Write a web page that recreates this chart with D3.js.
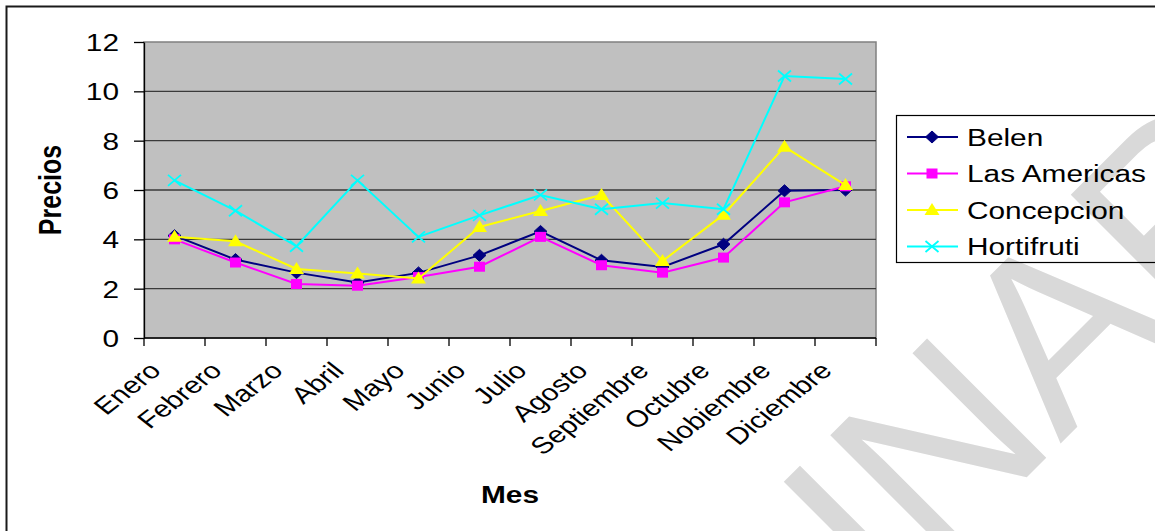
<!DOCTYPE html>
<html>
<head>
<meta charset="utf-8">
<script src="https://cdn.jsdelivr.net/npm/d3@7"></script>
<style>
  html, body { margin: 0; padding: 0; background: #fff; }
  svg { display: block; }
  text { font-family: "Liberation Sans", Arial, sans-serif; fill: #000; }
</style>
</head>
<body>
<div id="chart"></div>
<script>
// Precios mensuales por punto de venta
const months = ["Enero", "Febrero", "Marzo", "Abril", "Mayo", "Junio", "Julio",
                "Agosto", "Septiembre", "Octubre", "Nobiembre", "Diciembre"];
const belen       = [4.15, 3.18, 2.65, 2.25, 2.64, 3.35, 4.32, 3.15, 2.88, 3.80, 5.97, 6.00];
const lasAmericas = [4.00, 3.06, 2.19, 2.12, 2.47, 2.89, 4.10, 2.95, 2.65, 3.26, 5.50, 6.15];
const concepcion  = [4.10, 3.92, 2.80, 2.61, 2.41, 4.50, 5.15, 5.80, 3.12, 5.00, 7.75, 6.20];
const hortifruti  = [6.39, 5.16, 3.72, 6.39, 4.10, 4.97, 5.80, 5.22, 5.47, 5.22, 10.62, 10.50];
const seriesNames = ["Belen", "Las Americas", "Concepcion", "Hortifruti"];
const yTicks = [0, 2, 4, 6, 8, 10, 12];

const W = 1155, H = 531;
const SX = 1.28;          // horizontal stretch of the lettering
const FS = 23.3;

const series = [
  { name: seriesNames[0], values: belen,       color: "#000080", marker: "diamond" },
  { name: seriesNames[1], values: lasAmericas, color: "#ff00ff", marker: "square" },
  { name: seriesNames[2], values: concepcion,  color: "#ffff00", marker: "triangle" },
  { name: seriesNames[3], values: hortifruti,  color: "#00ffff", marker: "cross" }
];

const plot = { left: 144, right: 876, top: 42, bottom: 338 };

const svg = d3.select("#chart").append("svg")
  .attr("width", W).attr("height", H);

svg.append("rect").attr("width", W).attr("height", H).attr("fill", "#fff");

// watermark lettering behind the chart
svg.append("text")
  .attr("transform", "translate(887,617) rotate(-45)")
  .attr("font-size", 245)
  .style("fill", "#d9d9d9")
  .text("INAR");

// outer frame
svg.append("rect")
  .attr("x", 6.5).attr("y", 6.5).attr("width", 1300).attr("height", 700)
  .attr("fill", "none").attr("stroke", "#1a1a1a").attr("stroke-width", 2);

const x = d3.scaleBand().domain(months).range([plot.left, plot.right]).padding(0);
const y = d3.scaleLinear().domain([0, 12]).range([plot.bottom, plot.top]);
const cx = m => x(m) + x.bandwidth() / 2;

// plot area
svg.append("rect")
  .attr("x", plot.left).attr("y", plot.top)
  .attr("width", plot.right - plot.left).attr("height", plot.bottom - plot.top)
  .attr("fill", "#c0c0c0").attr("stroke", "#808080").attr("stroke-width", 1.5);

// horizontal gridlines
svg.append("g").selectAll("line")
  .data(yTicks.filter(t => t > 0 && t < 12))
  .join("line")
  .attr("x1", plot.left).attr("x2", plot.right)
  .attr("y1", d => y(d)).attr("y2", d => y(d))
  .attr("stroke", "#3a3a3a").attr("stroke-width", 1.3);

// y axis
const yAxis = svg.append("g")
  .attr("transform", `translate(${plot.left},0)`)
  .call(d3.axisLeft(y).tickValues(yTicks).tickSize(10).tickSizeOuter(0));
yAxis.select(".domain").attr("stroke", "#000").attr("stroke-width", 1.3);
yAxis.selectAll(".tick line").attr("stroke", "#000").attr("stroke-width", 1.3);
yAxis.selectAll(".tick text")
  .attr("x", null).attr("dy", null)
  .attr("transform", `translate(-25,8.5) scale(${SX},1)`)
  .attr("text-anchor", "end")
  .attr("font-size", FS)
  .attr("font-family", "Liberation Sans, Arial, sans-serif")
  .attr("fill", "#000");

// x axis with ticks on category boundaries
const xAxisG = svg.append("g");
xAxisG.append("line")
  .attr("x1", plot.left).attr("x2", plot.right)
  .attr("y1", plot.bottom).attr("y2", plot.bottom)
  .attr("stroke", "#000").attr("stroke-width", 1.3);
const boundaries = months.map(m => x(m)).concat([x(months[months.length - 1]) + x.bandwidth()]);
xAxisG.selectAll("line.tk")
  .data(boundaries)
  .join("line").attr("class", "tk")
  .attr("x1", d => d).attr("x2", d => d)
  .attr("y1", plot.bottom).attr("y2", plot.bottom + 8)
  .attr("stroke", "#000").attr("stroke-width", 1.3);

xAxisG.selectAll("text.lbl")
  .data(months)
  .join("text").attr("class", "lbl")
  .attr("transform", d => `translate(${cx(d) - 12},${plot.bottom + 34}) scale(${SX},1) rotate(-45)`)
  .attr("text-anchor", "end")
  .attr("font-size", FS)
  .text(d => d);

// axis titles
svg.append("text")
  .attr("transform", `translate(61,190) scale(${SX},1) rotate(-90)`)
  .attr("text-anchor", "middle")
  .attr("font-size", 25).attr("font-weight", "bold")
  .text("Precios");
svg.append("text")
  .attr("transform", `translate(510,503) scale(${SX},1)`)
  .attr("text-anchor", "middle")
  .attr("font-size", FS).attr("font-weight", "bold")
  .text("Mes");

// marker shapes
function drawMarker(g, type, color, px, py) {
  if (type === "diamond") {
    g.append("path")
      .attr("d", `M${px},${py - 6}L${px + 6.5},${py}L${px},${py + 6}L${px - 6.5},${py}Z`)
      .attr("fill", color).attr("stroke", color).attr("stroke-width", 1);
  } else if (type === "square") {
    g.append("rect")
      .attr("x", px - 5.5).attr("y", py - 5).attr("width", 11).attr("height", 10)
      .attr("fill", color);
  } else if (type === "triangle") {
    g.append("path")
      .attr("d", `M${px},${py - 7}L${px + 7.5},${py + 5}L${px - 7.5},${py + 5}Z`)
      .attr("fill", color);
  } else if (type === "cross") {
    g.append("path")
      .attr("d", `M${px - 6.5},${py - 5.5}L${px + 6.5},${py + 5.5}M${px - 6.5},${py + 5.5}L${px + 6.5},${py - 5.5}`)
      .attr("stroke", color).attr("stroke-width", 1.8).attr("fill", "none");
  }
}

const line = d3.line().x((d, i) => cx(months[i])).y(d => y(d));

series.forEach(s => {
  const g = svg.append("g");
  g.append("path")
    .attr("d", line(s.values))
    .attr("fill", "none").attr("stroke", s.color).attr("stroke-width", 2);
  s.values.forEach((v, i) => drawMarker(g, s.marker, s.color, cx(months[i]), y(v)));
});

// legend
const lg = svg.append("g");
lg.append("rect")
  .attr("x", 896.5).attr("y", 115.5).attr("width", 280).attr("height", 147)
  .attr("fill", "none").attr("stroke", "#000").attr("stroke-width", 1.2);
series.forEach((s, i) => {
  const ly = 137 + i * 36.5;
  const g = lg.append("g");
  g.append("line")
    .attr("x1", 907).attr("x2", 958).attr("y1", ly).attr("y2", ly)
    .attr("stroke", s.color).attr("stroke-width", 2);
  drawMarker(g, s.marker, s.color, 932, ly);
  g.append("text")
    .attr("transform", `translate(967,${ly + 8.5}) scale(${SX},1)`)
    .attr("font-size", FS)
    .text(s.name);
});
</script>
</body>
</html>
